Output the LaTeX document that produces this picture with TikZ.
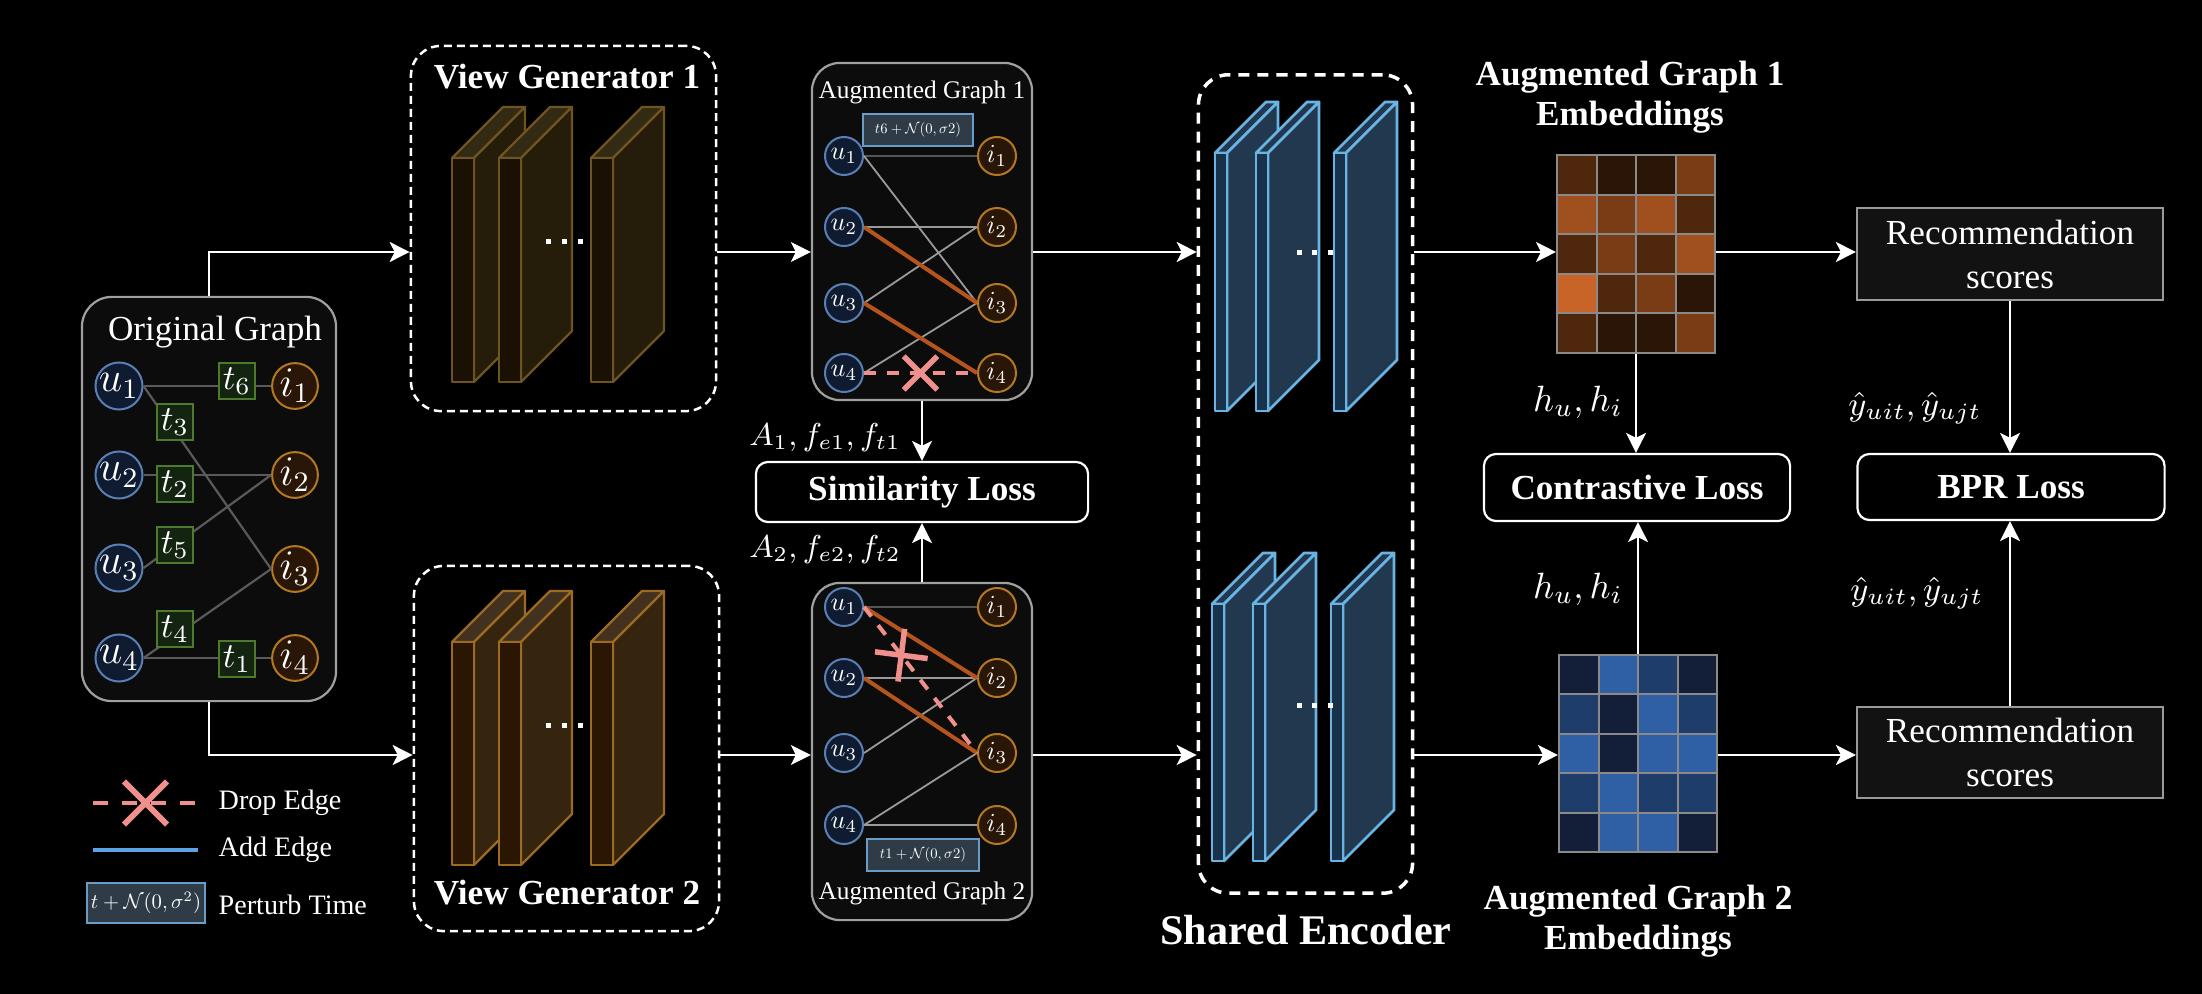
\RequirePackage{fix-cm}
\documentclass[tikz,border=0pt]{standalone}
\usepackage[no-math]{fontspec}
\setmainfont{Liberation Serif}
\usetikzlibrary{arrows.meta,shapes.misc}
\definecolor{ublue}{HTML}{5A7FB5}
\definecolor{ufill}{HTML}{0F1B30}
\definecolor{iorg}{HTML}{B47820}
\definecolor{ifill}{HTML}{2A1606}
\definecolor{tgreen}{HTML}{4E7A2E}
\definecolor{tfill}{HTML}{132410}
\definecolor{boxfill}{HTML}{0C0C0C}
\definecolor{boxline}{HTML}{A0A0A0}
\definecolor{edgemid}{HTML}{5A5A5A}
\definecolor{edgedark}{HTML}{555555}
\definecolor{edgelight}{HTML}{9A9A9A}
\definecolor{edgeorg}{HTML}{B5541C}
\definecolor{droppink}{HTML}{F0908C}
\definecolor{addblue}{HTML}{5BA3E6}
\definecolor{pfill}{HTML}{2F3B47}
\definecolor{pline}{HTML}{6A9CC8}
\definecolor{recfill}{HTML}{121212}
\definecolor{recline}{HTML}{9A9A9A}
\definecolor{gridg}{HTML}{8A8A8A}
\definecolor{vaF}{HTML}{1B1004}\definecolor{vaS}{HTML}{251C09}\definecolor{vaT}{HTML}{332A14}\definecolor{vaL}{HTML}{6E5420}
\definecolor{vbF}{HTML}{2B1603}\definecolor{vbS}{HTML}{35250F}\definecolor{vbT}{HTML}{42311F}\definecolor{vbL}{HTML}{9C6A22}
\definecolor{enF}{HTML}{17324A}\definecolor{enS}{HTML}{22384E}\definecolor{enT}{HTML}{22384E}\definecolor{enL}{HTML}{6AB4E4}
\definecolor{oA}{HTML}{2B1506}\definecolor{oB}{HTML}{4E270D}\definecolor{oC}{HTML}{7A3C15}\definecolor{oD}{HTML}{A0501E}\definecolor{oE}{HTML}{C86428}
\definecolor{bA}{HTML}{131F38}\definecolor{bB}{HTML}{1F3D6B}\definecolor{bC}{HTML}{2F5FA5}
\newcommand{\mySlab}[7]{%
  \filldraw[draw=#6L, fill=#6T, line width=#7, line join=round] (#1,#2) -- ++(#5,-#5) -- ++(#3,0) -- ++(-#5,#5) -- cycle;
  \filldraw[draw=#6L, fill=#6S, line width=#7, line join=round] (#1+#3,#2) -- ++(#5,-#5) -- ++(0,#4) -- ++(-#5,#5) -- cycle;
  \filldraw[draw=#6L, fill=#6F, line width=#7, line join=round] (#1,#2) rectangle ++(#3,#4);
}
\newcommand{\smath}[2]{\scalebox{#1}{$#2$}}
\tikzset{
  arr/.style={draw=white, line width=0.02cm, -{Stealth[length=0.2cm,width=0.2cm,inset=0.05cm]}},
  gbox/.style={draw=boxline, fill=boxfill, line width=0.022cm, rounded corners=0.28cm, inner sep=0pt},
  dbox/.style={draw=white, line width=0.025cm, dash pattern=on 0.08cm off 0.05cm, rounded corners=0.3cm, inner sep=0pt},
  lossbox/.style={draw=white, fill=black, line width=0.022cm, rounded corners=0.12cm, text=white, inner sep=0pt, font=\bfseries\fontsize{10}{12}\selectfont},
  recbox/.style={draw=recline, fill=recfill, line width=0.02cm, align=center, text=white, inner sep=0pt, font=\fontsize{10}{12.5}\selectfont},
  ou/.style={circle, draw=ublue, fill=ufill, line width=0.02cm, minimum size=0.45cm, inner sep=0pt, text=white, font=\fontsize{12}{12}\selectfont},
  oi/.style={ou, draw=iorg, fill=ifill},
  au/.style={ou, minimum size=0.38cm, font=\fontsize{10}{10}\selectfont},
  ai/.style={au, draw=iorg, fill=ifill},
  tb/.style={rectangle, draw=tgreen, fill=tfill, line width=0.02cm, minimum size=0.36cm, inner sep=0pt, text=white, font=\fontsize{10}{10}\selectfont},
  pbox/.style={rectangle, draw=pline, fill=pfill, line width=0.02cm, inner sep=0pt, text=white, font=\fontsize{10}{10}\selectfont},
  oedge/.style={draw=edgemid, line width=0.022cm},
  gedge/.style={draw=edgelight, line width=0.018cm},
  dedge/.style={draw=edgedark, line width=0.025cm},
  redge/.style={draw=edgeorg, line width=0.04cm},
  dropedge/.style={draw=droppink, line width=0.04cm, dash pattern=on 0.12cm off 0.11cm},
  crossx/.style={cross out, solid, draw=droppink, line width=0.055cm, minimum size=0.28cm, inner sep=0pt},
  lbl/.style={text=white, inner sep=0pt, font=\fontsize{10}{10}\selectfont},
  ttl/.style={text=white, inner sep=0pt, align=center, font=\bfseries\fontsize{10}{11.4}\selectfont},
  embbox/.style={draw=gridg, line width=0.02cm, minimum width=1.58cm, minimum height=1.98cm, inner sep=0pt},
}
\begin{document}
\begin{tikzpicture}[x=0.01cm, y=-0.01cm]
\useasboundingbox (0,0) rectangle (2202,994);
\fill[black] (0,0) rectangle (2202,994);
\coordinate (rowA) at (0,252);
\coordinate (rowB) at (0,755);

% ---------- dashed containers ----------
\node[dbox, minimum width=3.05cm, minimum height=3.65cm] (vg1) at (563.5,228.5) {};
\node[dbox, minimum width=3.05cm, minimum height=3.65cm] (vg2) at (566.5,748.5) {};
\node[dbox, line width=0.035cm, dash pattern=on 0.11cm off 0.08cm, minimum width=2.14cm, minimum height=8.18cm] (enc) at (1305.5,484) {};
\node[ttl] (vg1t) at (567,77) {View Generator 1};
\node[ttl] (vg2t) at (567,893) {View Generator 2};
\node[ttl, font=\bfseries\fontsize{12}{12}\selectfont] (enct) at (1306,930) {Shared Encoder};

% ---------- slabs ----------
\mySlab{452}{158}{22}{224}{51}{va}{0.022cm}
\mySlab{499}{158}{22}{224}{51}{va}{0.022cm}
\mySlab{591}{158}{22}{224}{51}{va}{0.022cm}
\mySlab{452}{642}{22}{223}{51}{vb}{0.022cm}
\mySlab{499}{642}{22}{223}{51}{vb}{0.022cm}
\mySlab{591}{642}{22}{223}{51}{vb}{0.022cm}
\mySlab{1215}{153}{12}{258}{51}{en}{0.028cm}
\mySlab{1256}{153}{12}{258}{51}{en}{0.028cm}
\mySlab{1334}{153}{12}{258}{51}{en}{0.028cm}
\mySlab{1212}{604}{12}{257}{51}{en}{0.028cm}
\mySlab{1253}{604}{12}{257}{51}{en}{0.028cm}
\mySlab{1331}{604}{12}{257}{51}{en}{0.028cm}
\foreach \dx in {548,564,580} {
  \fill[white] (\dx-2.5,239.5) rectangle ++(5,5);
  \fill[white] (\dx-2.5,722.5) rectangle ++(5,5);
}
\foreach \dx in {1299,1314,1330} {
  \fill[white] (\dx-2.5,250.5) rectangle ++(5,5);
  \fill[white] (\dx-2.5,702.5) rectangle ++(5,5);
}

% ---------- original graph ----------
\node[gbox, rounded corners=0.3cm, minimum width=2.54cm, minimum height=4.04cm] (og) at (209,499) {};
\node[lbl] (ogt) at (215,332) {Original Graph};
\node[ou] (ou1) at (119,386) {$u_1$};
\node[ou] (ou2) at (119,475) {$u_2$};
\node[ou] (ou3) at (119,568) {$u_3$};
\node[ou] (ou4) at (119,658) {$u_4$};
\node[oi] (oi1) at (295,386) {$i_1$};
\node[oi] (oi2) at (295,475) {$i_2$};
\node[oi] (oi3) at (295,569) {$i_3$};
\node[oi] (oi4) at (295,658) {$i_4$};
\draw[oedge] (ou1.east) -- (oi1.west);
\draw[oedge] (ou1.east) -- (oi3.west);
\draw[oedge] (ou2.east) -- (oi2.west);
\draw[oedge] (ou3.east) -- (oi2.west);
\draw[oedge] (ou4.east) -- (oi3.west);
\draw[oedge] (ou4.east) -- (oi4.west);
\node[tb] (ot6) at (237,381) {$t_6$};
\node[tb] (ot3) at (175,422) {$t_3$};
\node[tb] (ot2) at (175,484) {$t_2$};
\node[tb] (ot5) at (175,545) {$t_5$};
\node[tb] (ot4) at (175,629) {$t_4$};
\node[tb] (ot1) at (237,659) {$t_1$};

% ---------- augmented graph 1 ----------
\node[gbox, minimum width=2.2cm, minimum height=3.37cm] (ag1) at (922,231.5) {};
\node[lbl, font=\fontsize{7.2}{7.2}\selectfont] (ag1t) at (922,92) {Augmented Graph 1};
\node[au] (a1u1) at (844,156) {\smath{0.74}{u_1}};
\node[au] (a1u2) at (844,227) {\smath{0.74}{u_2}};
\node[au] (a1u3) at (844,303) {\smath{0.74}{u_3}};
\node[au] (a1u4) at (844,373) {\smath{0.74}{u_4}};
\node[ai] (a1i1) at (997,156) {\smath{0.74}{i_1}};
\node[ai] (a1i2) at (997,227) {\smath{0.74}{i_2}};
\node[ai] (a1i3) at (997,303) {\smath{0.74}{i_3}};
\node[ai] (a1i4) at (997,373) {\smath{0.74}{i_4}};
\draw[dedge] (a1u1.east) -- (a1i1.west);
\draw[gedge] (a1u1.east) -- (a1i3.west);
\draw[gedge] (a1u2.east) -- (a1i2.west);
\draw[gedge] (a1u3.east) -- (a1i2.west);
\draw[gedge] (a1u4.east) -- (a1i3.west);
\draw[redge] (a1u2.east) -- (a1i3.west);
\draw[redge] (a1u3.east) -- (a1i4.west);
\draw[dropedge] (a1u4.east) -- node[crossx, sloped] (a1x) {} (a1i4.west);
\node[pbox, minimum width=1.1cm, minimum height=0.32cm] (a1p) at (918,130) {\resizebox{0.86cm}{!}{$t6+\mathcal{N}(0,\sigma2)$}};

% ---------- augmented graph 2 ----------
\node[gbox, minimum width=2.2cm, minimum height=3.37cm] (ag2) at (922,751.5) {};
\node[lbl, font=\fontsize{7.2}{7.2}\selectfont] (ag2t) at (922,893) {Augmented Graph 2};
\node[au] (a2u1) at (844,607) {\smath{0.74}{u_1}};
\node[au] (a2u2) at (844,678) {\smath{0.74}{u_2}};
\node[au] (a2u3) at (844,753) {\smath{0.74}{u_3}};
\node[au] (a2u4) at (844,825) {\smath{0.74}{u_4}};
\node[ai] (a2i1) at (997,607) {\smath{0.74}{i_1}};
\node[ai] (a2i2) at (997,678) {\smath{0.74}{i_2}};
\node[ai] (a2i3) at (997,753) {\smath{0.74}{i_3}};
\node[ai] (a2i4) at (997,825) {\smath{0.74}{i_4}};
\draw[dedge] (a2u1.east) -- (a2i1.west);
\draw[gedge] (a2u2.east) -- (a2i2.west);
\draw[gedge] (a2u3.east) -- (a2i2.west);
\draw[gedge] (a2u4.east) -- (a2i3.west);
\draw[gedge] (a2u4.east) -- (a2i4.west);
\draw[redge] (a2u1.east) -- (a2i2.west);
\draw[redge] (a2u2.east) -- (a2i3.west);
\draw[dropedge] (a2u1.east) -- node[crossx, sloped, pos=0.33, minimum size=0.32cm] (a2x) {} (a2i3.west);
\node[pbox, minimum width=1.12cm, minimum height=0.32cm] (a2p) at (923,855) {\resizebox{0.86cm}{!}{$t1+\mathcal{N}(0,\sigma2)$}};

% ---------- losses and outputs ----------
\node[lossbox, minimum width=3.32cm, minimum height=0.6cm] (sim) at (922,492) {Similarity Loss};
\node[lossbox, minimum width=3.06cm, minimum height=0.67cm] (cl) at (1637,487.5) {Contrastive Loss};
\node[lossbox, minimum width=3.07cm, minimum height=0.66cm] (bpr) at (2011,487) {BPR Loss};
\node[recbox, minimum width=3.06cm, minimum height=0.92cm] (rec1) at (2010,254) {Recommendation\\scores};
\node[recbox, minimum width=3.06cm, minimum height=0.91cm] (rec2) at (2010,752.5) {Recommendation\\scores};

% ---------- embeddings ----------
\foreach \r/\row in {0/{oB,oA,oA,oC},1/{oD,oC,oD,oB},2/{oB,oC,oB,oD},3/{oE,oB,oC,oA},4/{oB,oA,oA,oC}} {
  \foreach \k [count=\c from 0] in \row {
    \filldraw[fill=\k, draw=gridg, line width=0.02cm] (1557+\c*39.5,155+\r*39.6) rectangle ++(39.5,39.6);
  }
}
\foreach \r/\row in {0/{bA,bC,bB,bA},1/{bB,bA,bC,bB},2/{bC,bA,bC,bC},3/{bB,bC,bB,bB},4/{bA,bC,bC,bA}} {
  \foreach \k [count=\c from 0] in \row {
    \filldraw[fill=\k, draw=gridg, line width=0.02cm] (1559+\c*39.5,655+\r*39.4) rectangle ++(39.5,39.4);
  }
}
\node[embbox] (emb1) at (1636,254) {};
\node[embbox, minimum height=1.97cm] (emb2) at (1638,753.5) {};
\node[ttl] (emb1t) at (1630,97) {Augmented Graph 1\\Embeddings};
\node[ttl] (emb2t) at (1638,921) {Augmented Graph 2\\Embeddings};

% ---------- connectors ----------
\draw[arr] (og.north) |- (vg1.west |- rowA);
\draw[arr] (og.south) |- (vg2.west |- rowB);
\draw[arr] (vg1.east |- rowA) -- (ag1.west |- rowA);
\draw[arr] (vg2.east |- rowB) -- (ag2.west |- rowB);
\draw[arr] (ag1.east |- rowA) -- (enc.west |- rowA);
\draw[arr] (ag2.east |- rowB) -- (enc.west |- rowB);
\draw[arr] (enc.east |- rowA) -- (emb1.west |- rowA);
\draw[arr] (enc.east |- rowB) -- (emb2.west |- rowB);
\draw[arr] (emb1.east |- rowA) -- (rec1.west |- rowA);
\draw[arr] (emb2.east |- rowB) -- (rec2.west |- rowB);
\draw[arr] (ag1.south) -- (sim.north);
\draw[arr] (ag2.north) -- (sim.south);
\draw[arr] (emb1.south) -- (emb1.south |- cl.north);
\draw[arr] (emb2.north) -- (emb2.north |- cl.south);
\draw[arr] (rec1.south) -- (rec1.south |- bpr.north);
\draw[arr] (rec2.north) -- (rec2.north |- bpr.south);
\node[lbl, font=\fontsize{9}{9}\selectfont] (lA1) at (825,438) {$A_1, f_{e1}, f_{t1}$};
\node[lbl, font=\fontsize{9}{9}\selectfont] (lA2) at (825,550) {$A_2, f_{e2}, f_{t2}$};
\node[lbl, font=\fontsize{10.4}{10.4}\selectfont] (lh1) at (1578,402) {$h_u, h_i$};
\node[lbl, font=\fontsize{10.4}{10.4}\selectfont] (lh2) at (1578,589) {$h_u, h_i$};
\node[lbl, font=\fontsize{9.5}{9.5}\selectfont] (ly1) at (1915,408) {$\hat{y}_{uit}, \hat{y}_{ujt}$};
\node[lbl, font=\fontsize{9.5}{9.5}\selectfont] (ly2) at (1917,593) {$\hat{y}_{uit}, \hat{y}_{ujt}$};

% ---------- legend ----------
\coordinate (lg1a) at (93,803);
\coordinate (lg1b) at (198,803);
\coordinate (lg2a) at (93,850);
\coordinate (lg2b) at (198,850);
\draw[dropedge, dash pattern=on 0.15cm off 0.14cm] (lg1a) -- node[crossx, minimum size=0.37cm, line width=0.06cm] (lgx) {} (lg1b);
\draw[draw=addblue, line width=0.04cm] (lg2a) -- (lg2b);
\node[pbox, minimum width=1.18cm, minimum height=0.40cm] (lgp) at (146,903) {\resizebox{1.1cm}{!}{$t+\mathcal{N}(0,\sigma^2)$}};
\node[lbl, anchor=west, font=\fontsize{8}{8}\selectfont] (lgt1) at (218,803) {Drop Edge};
\node[lbl, anchor=west, font=\fontsize{8}{8}\selectfont] (lgt2) at (218,850) {Add Edge};
\node[lbl, anchor=west, font=\fontsize{8}{8}\selectfont] (lgt3) at (218,905) {Perturb Time};
\end{tikzpicture}
\end{document}
